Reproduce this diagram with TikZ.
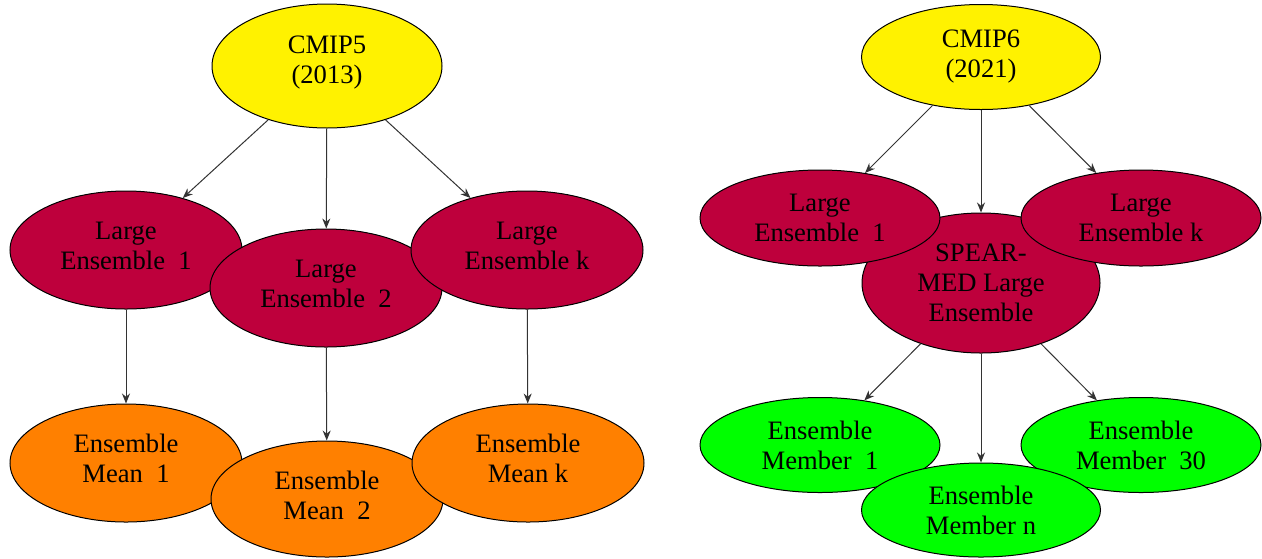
\documentclass[tikz,border=0pt]{standalone}
\usepackage{fontspec}
\setmainfont{Liberation Serif}
\newfontfamily\labelfont{Liberation Serif}
\usepackage{xcolor}
\usepackage{tikz}
\usetikzlibrary{shapes.geometric,arrows.meta}
\definecolor{cmipyellow}{RGB}{255,242,0}
\definecolor{lecrimson}{RGB}{190,0,60}
\definecolor{meanorange}{RGB}{255,128,0}
\definecolor{membergreen}{RGB}{0,255,0}

\begin{document}
\begin{tikzpicture}[x=0.5pt,y=-0.5pt,
	oval/.style={ellipse,draw=black,line width=0.5pt,inner sep=0pt,align=center,
		font=\labelfont\fontsize{13.3}{15}\selectfont},
	lift/.style={execute at end node={\rule[-#1]{0pt}{0pt}}},
	cmipnode/.style={oval,fill=cmipyellow},
	lenode/.style={oval,fill=lecrimson},
	meannode/.style={oval,fill=meanorange,minimum width=116pt,minimum height=59pt,lift=4pt},
	membernode/.style={oval,fill=membergreen,minimum width=120pt,minimum height=47.5pt},
	link/.style={-{Stealth[length=5pt,width=4pt]},draw=black!80,line width=0.5pt}]
				\useasboundingbox (0,0) rectangle (1262,558);
				% CMIP5 side
				\node[cmipnode,minimum width=115pt,minimum height=62pt,lift=6pt] (cmip5) at (327,66) {CMIP5\\(2013)};
				\node[lenode,minimum width=116pt,minimum height=59pt,lift=4pt] (le1) at (126,250) {Large\\Ensemble~~1};
				\node[lenode,minimum width=116pt,minimum height=59pt,lift=4pt] (le2) at (326,288) {Large\\Ensemble~~2};
				\node[lenode,minimum width=116pt,minimum height=59pt,lift=4pt] (lek) at (527,250) {Large\\Ensemble k};
				\node[meannode,lift=5pt] (em1) at (126,463) {Ensemble\\Mean~~1};
				\node[meannode,minimum height=58pt] (em2) at (327,499) {Ensemble\\Mean~~2};
				\node[meannode,lift=5pt] (emk) at (528,463) {Ensemble\\Mean k};
				\draw[link] (cmip5) to (le1);
				\draw[link] (cmip5) to (le2);
				\draw[link] (cmip5) to (lek);
				\draw[link] (le1) to (em1);
				\draw[link] (le2) to (em2);
				\draw[link] (lek) to (emk);
				% CMIP6 side
				\node[cmipnode,minimum width=119.5pt,minimum height=52.5pt] (cmip6) at (981,57) {CMIP6\\(2021)};
				\node[lenode,minimum width=119pt,minimum height=70pt] (spear) at (981,283) {SPEAR-\\MED Large\\Ensemble};
				\node[lenode,minimum width=120pt,minimum height=48pt] (ler1) at (820,218) {Large\\Ensemble~~1};
				\node[lenode,minimum width=120pt,minimum height=48pt] (lerk) at (1141,218) {Large\\Ensemble k};
				\node[membernode] (mem1) at (820,445) {Ensemble\\Member~~1};
				\node[membernode] (mem30) at (1141,445) {Ensemble\\Member~~30};
				\node[membernode,minimum width=119.5pt,minimum height=47pt] (memn) at (981,510) {Ensemble\\Member n};
				\draw[link] (cmip6) to (ler1);
				\draw[link] (cmip6) to (spear);
				\draw[link] (cmip6) to (lerk);
				\draw[link] (spear) to (mem1);
				\draw[link] (spear) to (memn);
				\draw[link] (spear) to (mem30);
	\end{tikzpicture}
\end{document}
